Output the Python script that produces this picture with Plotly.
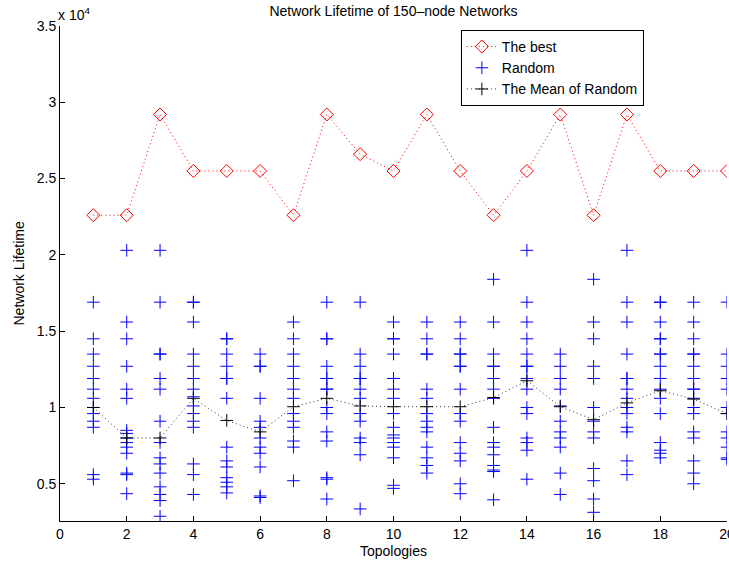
import plotly.graph_objects as go

############################################################
# DATA (network lifetime)
############################################################

topologies = list(range(1, 21))

best = [22600, 22600, 29200, 25500, 25500, 25500, 22600, 29200, 26600, 25500,
        29200, 25500, 22600, 25500, 29200, 22600, 29200, 25500, 25500, 25500]

mean_random = [10000, 8000, 8000, 10600, 9150, 8400, 10050, 10600, 10100, 10050,
               10050, 10050, 10650, 11750, 10050, 9200, 10300, 11100, 10550, 9600]

# random runs per topology
random_runs = [
    [16900, 14500, 13500, 12700, 11900, 11200, 10600, 10000, 9600, 9100, 8700, 5600, 5300],
    [20300, 15600, 14500, 12700, 11200, 10600, 8500, 8300, 8000, 7700, 7400, 7000, 5700, 5600, 4350],
    [20300, 16900, 13500, 13500, 11900, 11200, 9100, 7700, 6700, 6300, 5700, 4800, 4300, 3900, 2870],
    [16900, 16900, 15600, 13500, 12700, 11900, 11200, 10700, 10100, 9600, 9100, 8700, 6300, 5600, 4300],
    [14500, 14500, 13500, 12700, 11900, 11900, 10600, 7400, 6500, 6100, 5400, 5100, 4800, 4400],
    [13500, 12700, 12700, 10600, 9100, 8700, 8000, 7400, 7000, 6100, 4200, 4100],
    [15600, 14500, 13500, 12700, 11900, 11200, 10600, 9600, 9100, 8700, 7800, 7400, 5200],
    [16900, 14500, 14500, 12700, 11900, 11900, 11200, 11200, 10000, 9600, 8400, 7800, 5400, 5300, 4000],
    [16900, 13500, 12700, 11900, 11900, 11200, 10600, 9600, 9100, 8000, 7700, 6900, 3350],
    [15600, 14500, 14500, 13500, 11900, 11900, 11200, 10600, 9600, 8700, 8200, 8000, 7700, 7400, 6700, 4900, 4700],
    [15600, 14500, 13500, 13500, 11200, 10600, 9600, 9100, 8700, 8400, 7400, 6700, 6200, 5700],
    [15600, 14500, 13500, 13500, 12700, 12700, 11200, 9600, 9100, 7700, 7000, 6500, 5000, 4350],
    [18400, 15600, 13500, 12700, 12700, 11900, 11200, 10600, 8700, 7700, 7400, 6900, 6200, 5900, 5800, 3950],
    [20300, 16900, 15600, 14500, 13500, 12700, 12700, 11900, 11200, 10000, 9600, 8000, 7700, 7200, 5300],
    [13500, 12700, 11900, 11200, 10100, 9100, 8400, 8000, 7400, 5700, 4300],
    [18400, 15600, 14500, 12700, 11900, 10000, 9100, 8400, 8000, 6000, 5200, 4000, 3130],
    [20300, 16900, 15600, 13500, 11900, 11900, 11200, 10600, 10000, 9600, 8700, 8400, 6500, 5600],
    [16900, 16900, 15600, 14500, 14500, 13500, 13500, 12700, 11900, 11200, 10600, 9600, 7700, 7200, 7000, 6700],
    [16900, 15600, 14500, 13500, 13500, 12700, 11900, 11200, 11200, 10600, 10000, 9600, 8400, 8000, 6500, 5700, 5000],
    [16900, 13500, 12700, 11900, 11200, 10000, 9600, 8400, 8000, 7400, 6700, 6600],
]

y_ticks = [5000, 10000, 15000, 20000, 25000, 30000, 35000]
y_tick_labels = ["0.5", "1", "1.5", "2", "2.5", "3", "3.5"]
x_ticks = list(range(0, 21, 2))

############################################################
# flatten random runs
############################################################
rx, ry = [], []
for t, runs in zip(topologies, random_runs):
    rx += [t] * len(runs)
    ry += runs

############################################################
# figure
############################################################
FONT = "Liberation Sans, Arial, Helvetica, sans-serif"
FS = 14
DOTS = "1px,3px"

fig = go.Figure()

fig.add_trace(go.Scatter(
    x=topologies, y=best, name="The best", mode="lines+markers",
    line=dict(color="red", width=1, dash=DOTS),
    marker=dict(symbol="diamond-open", size=10, color="red",
                line=dict(color="red", width=1)),
))

fig.add_trace(go.Scatter(
    x=rx, y=ry, name="Random", mode="markers",
    marker=dict(symbol="cross-thin", size=9, color="blue",
                line=dict(color="blue", width=1)),
))

fig.add_trace(go.Scatter(
    x=topologies, y=mean_random, name="The Mean of Random", mode="lines+markers",
    line=dict(color="#333333", width=1, dash=DOTS),
    marker=dict(symbol="cross-thin", size=9, color="black",
                line=dict(color="black", width=1)),
))

fig.update_layout(
    width=729, height=562,
    margin=dict(l=60, r=2, t=26, b=41),
    paper_bgcolor="white", plot_bgcolor="white",
    font=dict(family=FONT, size=FS, color="black"),
    title=dict(text="Network Lifetime of 150\u2013node Networks",
               x=(60 + 727) / 2 / 729, xanchor="center",
               y=1 - 11 / 562, yanchor="middle",
               font=dict(size=FS)),
    showlegend=True,
    legend=dict(x=0.601, y=0.992, xanchor="left", yanchor="top",
                bgcolor="white", bordercolor="black", borderwidth=1,
                font=dict(size=FS), tracegroupgap=0, itemwidth=30),
)

fig.update_xaxes(
    range=[0, 20], tickvals=x_ticks, automargin=False,
    ticklabeloverflow="allow",
    showline=True, linecolor="black", linewidth=1,
    ticks="inside", ticklen=5, tickcolor="black",
    showgrid=False, zeroline=False,
)

fig.update_yaxes(
    range=[2560, 35000], tickvals=y_ticks, ticktext=y_tick_labels,
    automargin=False,
    showline=True, linecolor="black", linewidth=1,
    ticks="inside", ticklen=5, tickcolor="black",
    showgrid=False, zeroline=False,
)

# axis titles placed by hand
fig.add_annotation(
    text="Topologies", xref="paper", yref="paper", x=0.5, y=0,
    xanchor="center", yanchor="middle", yshift=-30,
    showarrow=False, font=dict(size=FS),
)
fig.add_annotation(
    text="Network Lifetime", xref="paper", yref="paper", x=0, y=0.5,
    xanchor="center", yanchor="middle", xshift=-42, textangle=-90,
    showarrow=False, font=dict(size=FS),
)

# MATLAB style exponent label above the y axis
fig.add_annotation(
    text="x 10<sup>4</sup>", xref="paper", yref="paper",
    x=0, y=1, xanchor="left", yanchor="bottom", xshift=-4, yshift=1,
    showarrow=False, font=dict(size=FS),
)

# drop the default page margin so the figure sits at the window corner
fig.write_html("out.html", config={"displayModeBar": False},
               post_script="document.body.style.margin='0';")
